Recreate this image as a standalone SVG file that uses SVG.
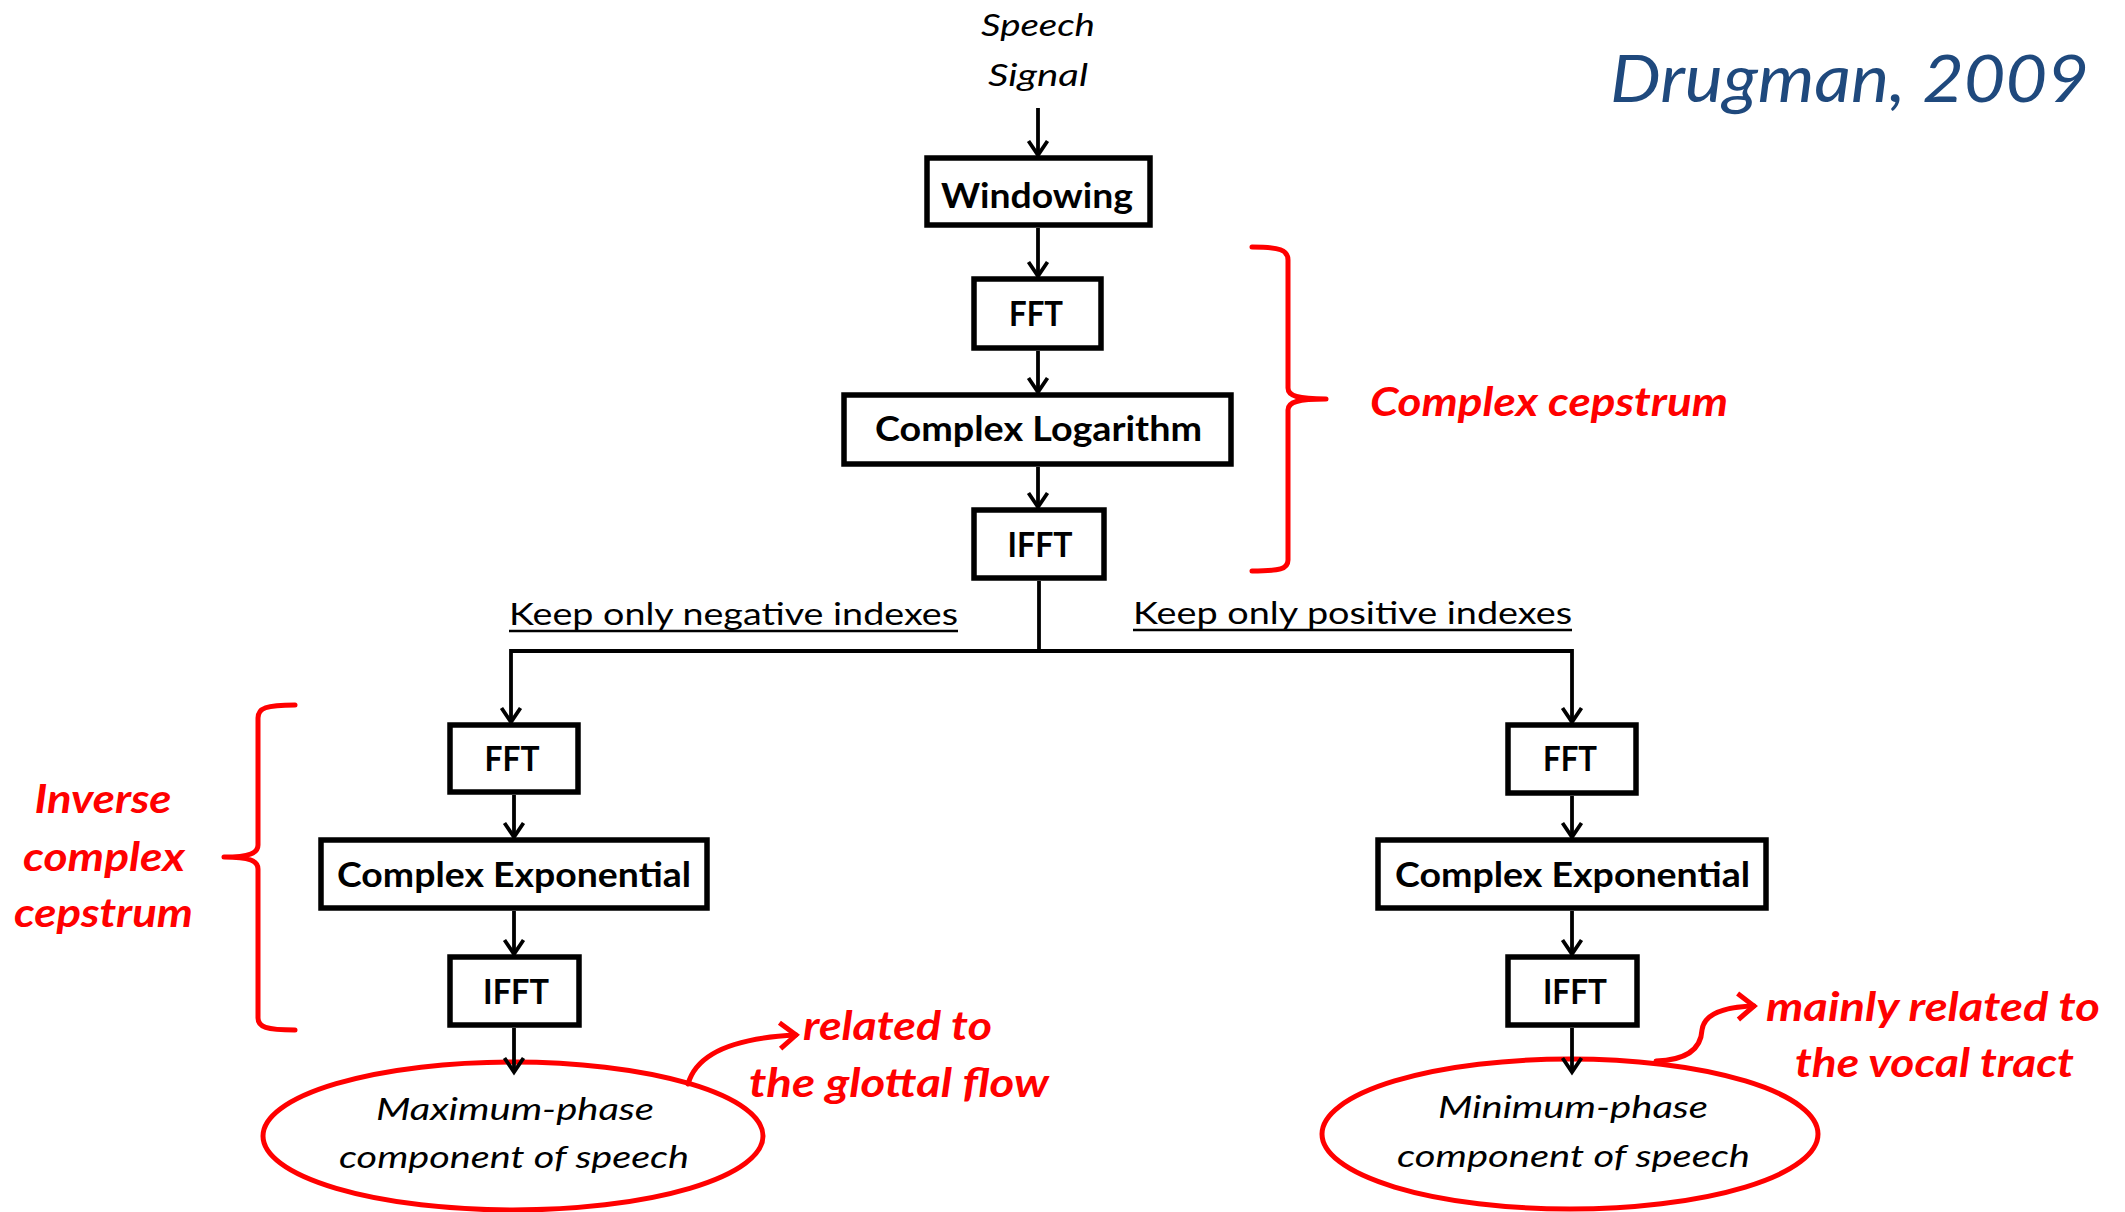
<svg xmlns="http://www.w3.org/2000/svg" width="2125" height="1212" viewBox="0 0 2125 1212">
<defs>
<style>
.box{fill:#fff;stroke:#000;stroke-width:5.5}
.bl{font-family:Lato,"Liberation Sans",sans-serif;font-weight:bold;font-size:34px;fill:#000;text-anchor:middle}
.it{font-family:Lato,"Liberation Sans",sans-serif;font-style:italic;font-size:31px;fill:#000;text-anchor:middle}
.kp{font-family:Lato,"Liberation Sans",sans-serif;font-size:31px;fill:#000;text-anchor:middle}
.red{font-family:Lato,"Liberation Sans",sans-serif;font-style:italic;font-weight:bold;font-size:40px;fill:#ff0000}
.conn{fill:none;stroke:#000;stroke-width:3.8}
.rc{fill:none;stroke:#ff0000;stroke-width:5;stroke-linecap:round;stroke-linejoin:round}
.ell{fill:#fff;stroke:#ff0000;stroke-width:5}
</style>
<marker id="ah" viewBox="-16 -12 20 24" refX="0" refY="0" markerWidth="20" markerHeight="24" markerUnits="userSpaceOnUse" orient="auto">
<path d="M-14,-9.5 L0,0 L-14,9.5" fill="none" stroke="#000" stroke-width="3.8"/>
</marker>
<marker id="rah" viewBox="-20 -16 24 32" refX="0" refY="0" markerWidth="24" markerHeight="32" markerUnits="userSpaceOnUse" orient="auto">
<path d="M-16,-13 L0,0 L-16,13" fill="none" stroke="#ff0000" stroke-width="5" stroke-linejoin="miter"/>
</marker>
</defs>
<rect width="2125" height="1212" fill="#fff"/>

<g id="title">
<text x="1610" y="102" font-family="Lato,'Liberation Sans',sans-serif" font-style="italic" font-size="66" fill="#1f497d" textLength="479" lengthAdjust="spacingAndGlyphs">Drugman, 2009</text>
</g>

<g id="speech-signal">
<text class="it" x="1038" y="36" textLength="114" lengthAdjust="spacingAndGlyphs">Speech</text>
<text class="it" x="1038" y="86" textLength="100" lengthAdjust="spacingAndGlyphs">Signal</text>
</g>

<g id="label-negative">
<text class="kp" x="733.5" y="625" textLength="449" lengthAdjust="spacingAndGlyphs">Keep only negative indexes</text>
<line x1="509" y1="631" x2="958" y2="631" stroke="#000" stroke-width="2.5"/>
</g>
<g id="label-positive">
<text class="kp" x="1352.5" y="624" textLength="439" lengthAdjust="spacingAndGlyphs">Keep only positive indexes</text>
<line x1="1133" y1="630" x2="1572" y2="630" stroke="#000" stroke-width="2.5"/>
</g>

<g id="windowing"><rect class="box" x="927" y="158" width="223" height="67"/><text class="bl" x="1037" y="208" textLength="192" lengthAdjust="spacingAndGlyphs">Windowing</text></g>
<g id="fft-top"><rect class="box" x="974" y="279" width="127" height="69"/><text class="bl" x="1036" y="326" textLength="54" lengthAdjust="spacingAndGlyphs">FFT</text></g>
<g id="complex-log"><rect class="box" x="844" y="395" width="387" height="69"/><text class="bl" x="1038.5" y="441" textLength="327" lengthAdjust="spacingAndGlyphs">Complex Logarithm</text></g>
<g id="ifft-top"><rect class="box" x="974" y="510" width="130" height="68"/><text class="bl" x="1040" y="557" textLength="65" lengthAdjust="spacingAndGlyphs">IFFT</text></g>

<g id="fft-left"><rect class="box" x="450" y="725" width="128" height="67"/><text class="bl" x="512" y="771" textLength="55" lengthAdjust="spacingAndGlyphs">FFT</text></g>
<g id="cexp-left"><rect class="box" x="321" y="840" width="386" height="68"/><text class="bl" x="514" y="887" textLength="354" lengthAdjust="spacingAndGlyphs">Complex Exponential</text></g>
<g id="ifft-left"><rect class="box" x="450" y="957" width="129" height="68"/><text class="bl" x="516" y="1004" textLength="66" lengthAdjust="spacingAndGlyphs">IFFT</text></g>

<g id="fft-right"><rect class="box" x="1508" y="725" width="128" height="68"/><text class="bl" x="1570" y="771" textLength="54" lengthAdjust="spacingAndGlyphs">FFT</text></g>
<g id="cexp-right"><rect class="box" x="1378" y="840" width="388" height="68"/><text class="bl" x="1572.5" y="887" textLength="355" lengthAdjust="spacingAndGlyphs">Complex Exponential</text></g>
<g id="ifft-right"><rect class="box" x="1508" y="957" width="129" height="68"/><text class="bl" x="1575" y="1004" textLength="64" lengthAdjust="spacingAndGlyphs">IFFT</text></g>

<g id="max-phase">
<ellipse class="ell" cx="513" cy="1136" rx="250" ry="74"/>
<text class="it" x="515" y="1120" textLength="278" lengthAdjust="spacingAndGlyphs">Maximum-phase</text>
<text class="it" x="514" y="1168" textLength="350" lengthAdjust="spacingAndGlyphs">component of speech</text>
</g>
<g id="min-phase">
<ellipse class="ell" cx="1570" cy="1134" rx="248" ry="75"/>
<text class="it" x="1573" y="1118" textLength="270" lengthAdjust="spacingAndGlyphs">Minimum-phase</text>
<text class="it" x="1573.5" y="1167" textLength="353" lengthAdjust="spacingAndGlyphs">component of speech</text>
</g>

<g id="connectors">
<line class="conn" x1="1038" y1="108" x2="1038" y2="155" marker-end="url(#ah)"/>
<line class="conn" x1="1038" y1="228" x2="1038" y2="276" marker-end="url(#ah)"/>
<line class="conn" x1="1038" y1="351" x2="1038" y2="392" marker-end="url(#ah)"/>
<line class="conn" x1="1038" y1="467" x2="1038" y2="507" marker-end="url(#ah)"/>
<path class="conn" d="M1039,581 L1039,651" stroke-width="4"/>
<path class="conn" d="M511,651 L1572,651" stroke-width="4.2"/>
<line class="conn" x1="511" y1="649" x2="511" y2="722" marker-end="url(#ah)"/>
<line class="conn" x1="1572" y1="649" x2="1572" y2="722" marker-end="url(#ah)"/>
<line class="conn" x1="514" y1="795" x2="514" y2="837" marker-end="url(#ah)"/>
<line class="conn" x1="514" y1="911" x2="514" y2="954" marker-end="url(#ah)"/>
<line class="conn" x1="514" y1="1028" x2="514" y2="1072" marker-end="url(#ah)"/>
<line class="conn" x1="1572" y1="796" x2="1572" y2="837" marker-end="url(#ah)"/>
<line class="conn" x1="1572" y1="911" x2="1572" y2="954" marker-end="url(#ah)"/>
<line class="conn" x1="1572" y1="1028" x2="1572" y2="1072" marker-end="url(#ah)"/>
</g>

<g id="brace-complex-cepstrum">
<path class="rc" d="M1252,247 C1280,247 1288,250 1288,260 L1288,388 C1288,396 1298,399 1326,399 M1326,399 C1298,399 1288,402 1288,410 L1288,560 C1288,569 1280,571 1252,571"/>
<text class="red" x="1370" y="416" textLength="358" lengthAdjust="spacingAndGlyphs">Complex cepstrum</text>
</g>

<g id="brace-inverse">
<path class="rc" d="M295,705 C266,705 258,708 258,718 L258,845 C258,853 250,857 224,857 M224,857 C250,857 258,861 258,869 L258,1018 C258,1027 266,1030 295,1030"/>
<text class="red" x="103" y="813" text-anchor="middle" textLength="137" lengthAdjust="spacingAndGlyphs">Inverse</text>
<text class="red" x="104" y="871" text-anchor="middle" textLength="162" lengthAdjust="spacingAndGlyphs">complex</text>
<text class="red" x="103.5" y="927" text-anchor="middle" textLength="179" lengthAdjust="spacingAndGlyphs">cepstrum</text>
</g>

<g id="note-glottal">
<path class="rc" d="M688,1084 C696,1055 730,1038 796,1035" marker-end="url(#rah)"/>
<text class="red" x="803" y="1040" textLength="189" lengthAdjust="spacingAndGlyphs">related to</text>
<text class="red" x="749" y="1097" textLength="300" lengthAdjust="spacingAndGlyphs">the glottal flow</text>
</g>

<g id="note-vocal">
<path class="rc" d="M1656,1061 C1688,1060 1701,1048 1702,1030 C1704,1014 1722,1007 1754,1006" marker-end="url(#rah)"/>
<text class="red" x="1766" y="1021" textLength="334" lengthAdjust="spacingAndGlyphs">mainly related to</text>
<text class="red" x="1795" y="1077" textLength="279" lengthAdjust="spacingAndGlyphs">the vocal tract</text>
</g>
</svg>
